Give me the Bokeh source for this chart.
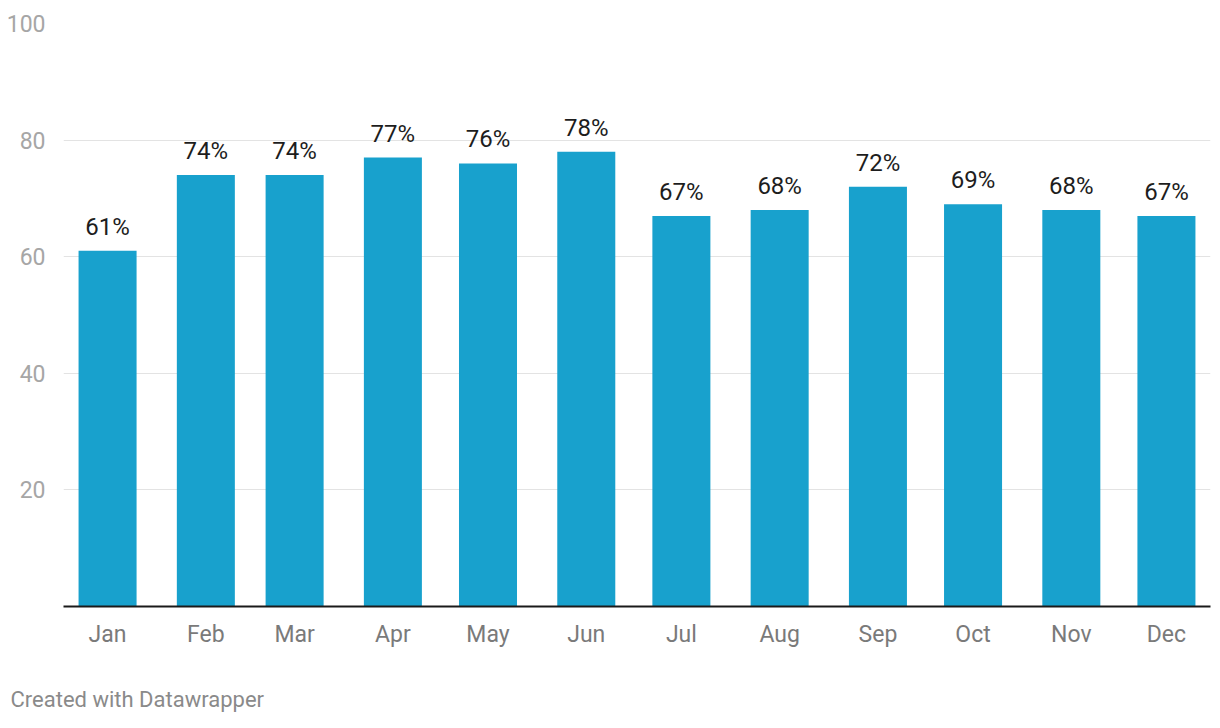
from datetime import datetime, timedelta
from bokeh.plotting import figure
from bokeh.models import ColumnDataSource, Title, FixedTicker, DatetimeTickFormatter, MonthsTicker, Range1d
from bokeh.embed import file_html
from bokeh.resources import INLINE
from bokeh.core.properties import value

months = ["Jan", "Feb", "Mar", "Apr", "May", "Jun", "Jul", "Aug", "Sep", "Oct", "Nov", "Dec"]
values = [61, 74, 74, 77, 76, 78, 67, 68, 72, 69, 68, 67]
y_ticks = [20, 40, 60, 80, 100]

year = 2023
dates = [datetime(year, i + 1, 1) for i in range(len(months))]
src = ColumnDataSource(dict(x=dates, top=values, month=months,
                            label=[f"{v}%" for v in values]))

FONT = "Roboto"
start = datetime(year, 1, 1) - timedelta(days=13.9)
end = datetime(year, 1, 1) + timedelta(days=347.9)

p = figure(output_backend="svg", toolbar_location=None,
           x_axis_type="datetime", x_range=Range1d(start, end), y_range=Range1d(0, 100),
           frame_width=1147, frame_height=583,
           min_border_left=63, min_border_right=2, min_border_top=23, min_border_bottom=100)
p.outline_line_color = None
p.background_fill_color = "white"
p.border_fill_color = "white"

bar_w = 18.3 * 86400000
p.vbar(x="x", top="top", bottom=0, width=bar_w, source=src, color="#18a1cd", line_color=None)
p.text(x="x", y="top", text="label", source=src, text_align="center", text_baseline="alphabetic",
       y_offset=-24, text_font=value(FONT), text_font_size="24px", text_color="#1d1d1d")

p.xgrid.visible = False
p.ygrid.ticker = FixedTicker(ticks=y_ticks)
p.ygrid.grid_line_color = "#e3e3e3"
p.ygrid.grid_line_width = 1

p.yaxis.ticker = FixedTicker(ticks=y_ticks)
p.yaxis.axis_line_color = None
p.yaxis.major_tick_line_color = None
p.yaxis.minor_tick_line_color = None
p.yaxis.major_label_text_font = FONT
p.yaxis.major_label_text_font_size = "23px"
p.yaxis.major_label_text_color = "#a6a6a6"
p.yaxis.major_label_standoff = 12

p.xaxis.ticker = MonthsTicker(months=list(range(12)))
p.xaxis.formatter = DatetimeTickFormatter(months="%b", years="%b", days="%b")
p.xaxis.axis_line_color = "#1a1a1a"
p.xaxis.axis_line_width = 2
p.xaxis.major_tick_line_color = None
p.xaxis.minor_tick_line_color = None
p.xaxis.major_label_text_font = FONT
p.xaxis.major_label_text_font_size = "23px"
p.xaxis.major_label_text_color = "#7a7a7a"
p.xaxis.major_label_standoff = 8

footer = Title(text="Created with Datawrapper", align="left", offset=-53, standoff=68,
               text_font=FONT, text_font_size="22px", text_font_style="normal",
               text_color="#8a8a8a")
p.add_layout(footer, "below")

open("out.html", "w").write(file_html(p, INLINE))
